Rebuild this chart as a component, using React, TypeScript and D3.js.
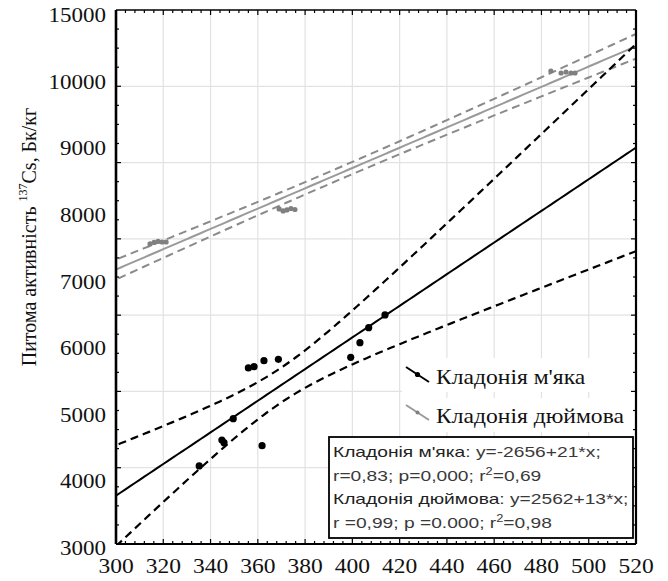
import * as d3 from 'd3';

const W = 668;
const H = 581;
const M = { left: 116, right: 636, top: 10, bottom: 544 };

const xTickValues = [300, 320, 340, 360, 380, 400, 420, 440, 460, 480, 500, 520];
const yTickValues = [3000, 4000, 5000, 6000, 7000, 8000, 9000, 10000, 11000];
const yTickLabels = ['3000', '4000', '5000', '6000', '7000', '8000', '9000', '10000', '15000'];

// Кладонія м'яка
const softX = [335.2, 344.8, 345.7, 349.6, 356.0, 358.4, 361.8, 362.6, 368.7, 399.3, 403.2, 406.9, 413.8];
const softY = [4232, 4622, 4582, 4942, 5704, 5723, 4536, 5813, 5834, 5864, 6083, 6309, 6500];

// Кладонія дюймова
const inchX = [314.4, 316.1, 317.8, 319.5, 321.2, 369.0, 370.7, 372.3, 374.0, 375.7, 484.0, 488.3, 490.4, 492.5, 494.2];
const inchY = [7566, 7589, 7604, 7596, 7596, 8092, 8062, 8077, 8099, 8084, 10164, 10134, 10149, 10134, 10134];

const boxLines = [
  ["Кладонія м'яка", ': y=-2656+21*x;'],
  ['', 'r=0,83; p=0,000; r', '2', '=0,69'],
  ['Кладонія дюймова', ': y=2562+13*x;'],
  ['', 'r =0,99; p =0.000; r', '2', '=0,98'],
];

const SERIF = "'Liberation Serif', 'Times New Roman', serif";
const SANS = "'Liberation Sans', Arial, sans-serif";

// linear fit with 95% confidence band
function fitBand(xs: number[], ys: number[], t: number) {
  const n = xs.length;
  const mx = d3.mean(xs) as number;
  const my = d3.mean(ys) as number;
  const sxx = d3.sum(xs, (x) => (x - mx) ** 2);
  const sxy = d3.sum(xs.map((x, i) => (x - mx) * (ys[i] - my)));
  const b = sxy / sxx;
  const a = my - b * mx;
  const sse = d3.sum(xs.map((x, i) => (ys[i] - a - b * x) ** 2));
  const s = Math.sqrt(sse / (n - 2));
  return (x: number) => {
    const fit = a + b * x;
    const h = t * s * Math.sqrt(1 / n + (x - mx) ** 2 / sxx);
    return { x, fit, lo: fit - h, hi: fit + h };
  };
}

export default function App() {
  const x = d3.scaleLinear().domain([300, 520]).range([M.left, M.right]);
  const y = d3.scaleLinear().domain([3060, 11080]).range([M.bottom, M.top]);
  const [y0, y1] = y.domain();

  const gridY = d3.range(1, 7).map((k) => y0 + (k * (y1 - y0)) / 7);
  const minorY = d3.range(1, 28).map((k) => y0 + (k * (y1 - y0)) / 28);
  const minorX = d3.range(304, 520, 4);

  const sample = d3.range(296, 524.1, 2);
  const soft = sample.map(fitBand(softX, softY, 2.201));
  const inch = sample.map(fitBand(inchX, inchY, 2.16));

  const path = (key: 'fit' | 'lo' | 'hi') =>
    d3
      .line<{ x: number; fit: number; lo: number; hi: number }>()
      .x((d) => x(d.x))
      .y((d) => y(d[key]));

  const stretch = (px: number, py: number, sx = 1.12) => `translate(${px},${py}) scale(${sx},1)`;

  return (
    <svg width={W} height={H} style={{ display: 'block', position: 'absolute', left: 0, top: 0 }}>
      <defs>
        <clipPath id="plot">
          <rect x={M.left} y={M.top} width={M.right - M.left} height={M.bottom - M.top} />
        </clipPath>
      </defs>
      <rect width={W} height={H} fill="#fff" />

      {/* grid */}
      <g stroke="#e2e2e2" strokeWidth={1.2}>
        {xTickValues.slice(1, -1).map((v) => (
          <line key={v} x1={x(v)} x2={x(v)} y1={M.top} y2={M.bottom} />
        ))}
        {gridY.map((v) => (
          <line key={v} x1={M.left} x2={M.right} y1={y(v)} y2={y(v)} />
        ))}
      </g>

      <g clipPath="url(#plot)" fill="none">
        <path d={path('hi')(inch) || ''} stroke="#8a8a8a" strokeWidth={2} strokeDasharray="8 5" />
        <path d={path('lo')(inch) || ''} stroke="#8a8a8a" strokeWidth={2} strokeDasharray="8 5" />
        <path d={path('fit')(inch) || ''} stroke="#9a9a9a" strokeWidth={2} />
        <path d={path('hi')(soft) || ''} stroke="#000" strokeWidth={2.2} strokeDasharray="8 5" />
        <path d={path('lo')(soft) || ''} stroke="#000" strokeWidth={2.2} strokeDasharray="8 5" />
        <path d={path('fit')(soft) || ''} stroke="#000" strokeWidth={2} />
      </g>

      {inchX.map((v, i) => (
        <circle key={`g${i}`} cx={x(v)} cy={y(inchY[i])} r={2.6} fill="#808080" />
      ))}
      {softX.map((v, i) => (
        <circle key={`b${i}`} cx={x(v)} cy={y(softY[i])} r={3.6} fill="#000" />
      ))}

      {/* top legend */}
      <g>
        <rect x={402} y={358} width={232} height={34} fill="#fff" />
        <rect x={402} y={398} width={232} height={34} fill="#fff" />
        <line x1={406} y1={367} x2={429} y2={382} stroke="#000" strokeWidth={2} />
        <circle cx={417.5} cy={374.5} r={2.6} fill="#000" />
        <line x1={406} y1={405} x2={429} y2={420} stroke="#9a9a9a" strokeWidth={2} />
        <circle cx={417.5} cy={412.5} r={2} fill="#808080" />
        <text transform={stretch(436, 384, 1.18)} fontFamily={SERIF} fontSize={20} fill="#111">
          Кладонія м'яка
        </text>
        <text transform={stretch(436, 423, 1.18)} fontFamily={SERIF} fontSize={20} fill="#111">
          Кладонія дюймова
        </text>
      </g>

      {/* frame */}
      <g stroke="#000" fill="none">
        <line x1={M.left} x2={M.right} y1={M.top} y2={M.top} strokeWidth={1.6} />
        <line x1={M.left} x2={M.right} y1={M.bottom} y2={M.bottom} strokeWidth={2.2} />
        <line x1={M.left} x2={M.left} y1={M.top} y2={M.bottom} strokeWidth={2.6} />
        <line x1={M.right} x2={M.right} y1={M.top} y2={M.bottom} strokeWidth={2.2} />
        {minorX.map((v) => (
          <g key={v} strokeWidth={1.2}>
            <line x1={x(v)} x2={x(v)} y1={M.bottom} y2={M.bottom - (v % 20 === 0 ? 5 : 3)} />
            <line x1={x(v)} x2={x(v)} y1={M.top} y2={M.top + (v % 20 === 0 ? 5 : 3)} />
          </g>
        ))}
        {minorY.map((v, i) => (
          <g key={v} strokeWidth={1.2}>
            <line x1={M.left} x2={M.left + ((i + 1) % 4 === 0 ? 5 : 3)} y1={y(v)} y2={y(v)} />
            <line x1={M.right} x2={M.right - ((i + 1) % 4 === 0 ? 5 : 3)} y1={y(v)} y2={y(v)} />
          </g>
        ))}
      </g>

      {/* statistics box */}
      <g>
        <rect x={329} y={437} width={304} height={101} fill="#fff" stroke="#000" strokeWidth={1.8} />
        {boxLines.map((parts, i) => (
          <text
            key={i}
            transform={stretch(333, 457 + i * 23.7, 1.28)}
            fontFamily={SANS}
            fontSize={15}
            fill="#3a3a3a"
          >
            {parts[0] ? <tspan fill="#222">{parts[0]}</tspan> : null}
            <tspan>{parts[1]}</tspan>
            {parts[2] ? (
              <>
                <tspan fontSize={10} dy={-6}>
                  {parts[2]}
                </tspan>
                <tspan dy={6}>{parts[3]}</tspan>
              </>
            ) : null}
          </text>
        ))}
      </g>

      {/* tick labels */}
      {xTickValues.map((v) => (
        <text
          key={v}
          transform={stretch(x(v), 573)}
          textAnchor="middle"
          fontFamily={SERIF}
          fontSize={21}
          fill="#111"
        >
          {v}
        </text>
      ))}
      {yTickValues.map((v, i) => (
        <text
          key={v}
          transform={stretch(106, y(v) + 7, 1.15)}
          textAnchor="end"
          fontFamily={SERIF}
          fontSize={20}
          fill="#111"
        >
          {yTickLabels[i]}
        </text>
      ))}

      {/* y title */}
      <text
        transform="translate(36,237) rotate(-90) scale(1,1.1)"
        textAnchor="middle"
        fontFamily={SERIF}
        fontSize={20}
        fill="#111"
      >
        Питома активність{' '}
        <tspan fontSize={12} dy={-8}>
          137
        </tspan>
        <tspan dy={8}>Cs, Бк/кг</tspan>
      </text>
    </svg>
  );
}
